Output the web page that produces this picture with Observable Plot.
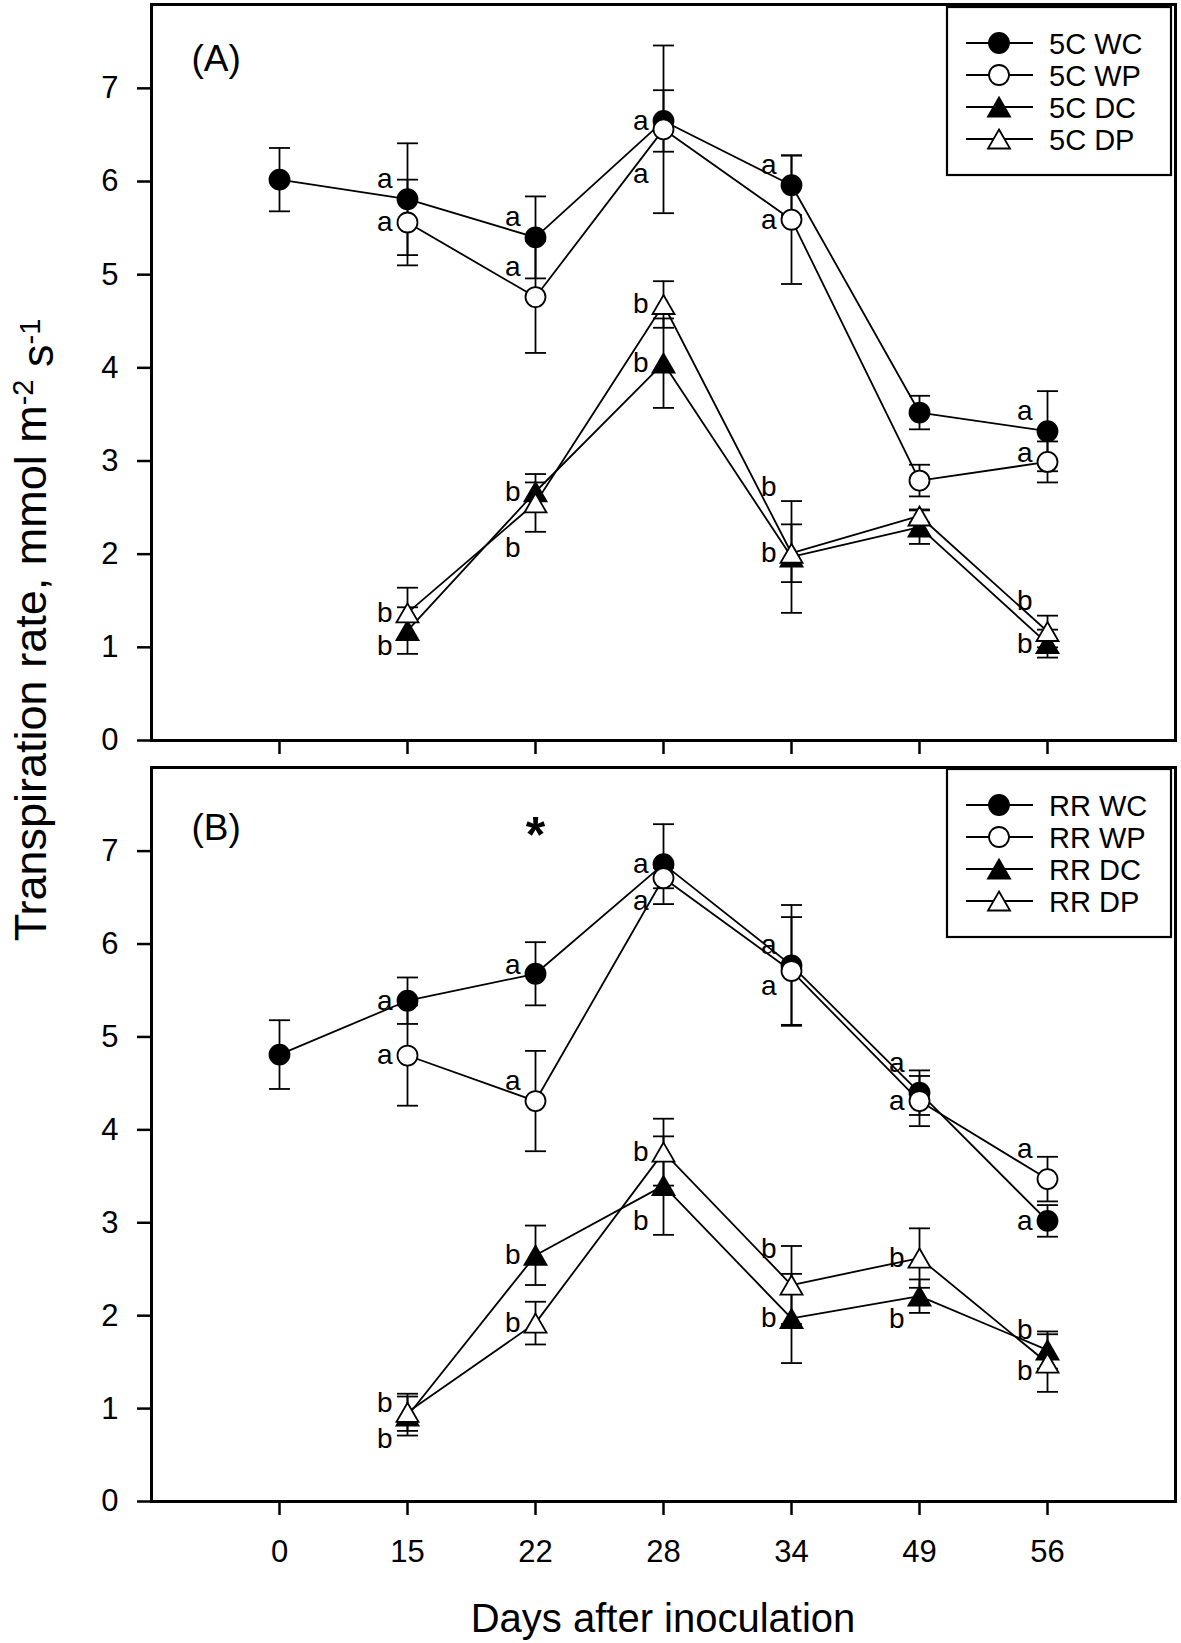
<!DOCTYPE html>
<html>
<head>
<meta charset="utf-8">
<script src="https://cdn.jsdelivr.net/npm/d3@7"></script>
<script src="https://cdn.jsdelivr.net/npm/@observablehq/plot@0.6"></script>
<style>
  body { margin: 0; background: #fff; }
  #fig { position: relative; width: 1181px; height: 1643px; background: #fff; }
  #fig svg { position: absolute; left: 0; overflow: visible; }
</style>
</head>
<body>
<div id="fig"></div>
<script>
// ---------------- DATA ----------------
const days = ["0", "15", "22", "28", "34", "49", "56"];
const yTicks = [0, 1, 2, 3, 4, 5, 6, 7];
const seriesNames = ["WC", "WP", "DC", "DP"];
const legendA = ["5C WC", "5C WP", "5C DC", "5C DP"];
const legendB = ["RR WC", "RR WP", "RR DC", "RR DP"];
const xTitle = "Days after inoculation";

// Panel A (5C): means and error (SE) per day
const meanA_WC = [6.02, 5.81, 5.40, 6.65, 5.96, 3.52, 3.32];
const seA_WC   = [0.34, 0.60, 0.44, 0.33, 0.32, 0.18, 0.43];
const meanA_WP = [null, 5.56, 4.76, 6.56, 5.59, 2.79, 2.99];
const seA_WP   = [null, 0.46, 0.60, 0.90, 0.69, 0.17, 0.22];
const meanA_DC = [null, 1.18, 2.67, 4.05, 1.97, 2.29, 1.04];
const seA_DC   = [null, 0.25, 0.10, 0.48, 0.60, 0.18, 0.15];
const meanA_DP = [null, 1.37, 2.55, 4.68, 2.01, 2.41, 1.17];
const seA_DP   = [null, 0.27, 0.31, 0.25, 0.31, 0.07, 0.17];

// Panel B (RR)
const meanB_WC = [4.81, 5.39, 5.68, 6.86, 5.77, 4.40, 3.02];
const seB_WC   = [0.37, 0.25, 0.34, 0.43, 0.65, 0.24, 0.17];
const meanB_WP = [null, 4.80, 4.31, 6.71, 5.71, 4.31, 3.47];
const seB_WP   = [null, 0.54, 0.54, 0.11, 0.58, 0.27, 0.24];
const meanB_DC = [null, 0.92, 2.65, 3.40, 1.97, 2.21, 1.63];
const seB_DC   = [null, 0.21, 0.32, 0.53, 0.48, 0.18, 0.20];
const meanB_DP = [null, 0.96, 1.92, 3.76, 2.33, 2.62, 1.49];
const seB_DP   = [null, 0.20, 0.23, 0.36, 0.42, 0.32, 0.31];

// Significance letters: [series, day, letter]
const lettersA = [
  ["WC","15","a"], ["WP","15","a"], ["WC","22","a"], ["WP","22","a"],
  ["WC","28","a"], ["WP","28","a"], ["WC","34","a"], ["WP","34","a"],
  ["WC","56","a"], ["WP","56","a"],
  ["DC","15","b"], ["DP","15","b"], ["DC","22","b"], ["DP","22","b"],
  ["DC","28","b"], ["DP","28","b"], ["DC","34","b"], ["DP","34","b"],
  ["DC","56","b"], ["DP","56","b"]
];
const lettersB = [
  ["WC","15","a"], ["WP","15","a"], ["WC","22","a"], ["WP","22","a"],
  ["WC","28","a"], ["WP","28","a"], ["WC","34","a"], ["WP","34","a"],
  ["WC","49","a"], ["WP","49","a"], ["WC","56","a"], ["WP","56","a"],
  ["DC","15","b"], ["DP","15","b"], ["DC","22","b"], ["DP","22","b"],
  ["DC","28","b"], ["DP","28","b"], ["DC","34","b"], ["DP","34","b"],
  ["DC","49","b"], ["DP","49","b"], ["DC","56","b"], ["DP","56","b"]
];
// placement code of each letter relative to its marker (same order)
const lettersAPlace = ["U","L","U","UU","L","D4","U","L","U","u",
                       "D","L","L","D4","L","L","U4","L","L","UU"];
const lettersBPlace = ["L","L","u","U","L","DD","U","D","UU","L","L","UU",
                       "DD","u","L","L","D3","L","L","U3","DD","L","U","d"];
const starsB = [{day: "22", y: 7.3, text: "*"}];

// ---------------- LAYOUT / STYLE ----------------
const FONT = '"Liberation Sans", Arial, Helvetica, sans-serif';
const W = 1181;
const placeDy = {L: 0, u: -9, U: -20, UU: -30, U3: -36, U4: -70, d: 8, D: 15, DD: 23, D3: 35, D4: 45};

const capSymbol = {
  draw(ctx, size) { const r = Math.sqrt(size / Math.PI); ctx.moveTo(-r, 0); ctx.lineTo(r, 0); }
};
const triSymbol = {
  draw(ctx, size) {
    const r = Math.sqrt(size / Math.PI), h = r * 1.73;
    ctx.moveTo(0, -h / 2); ctx.lineTo(r, h / 2); ctx.lineTo(-r, h / 2); ctx.closePath();
  }
};

function rowsOf(means, ses) {
  const rows = [];
  seriesNames.forEach(k => {
    means[k].forEach((m, i) => {
      if (m == null) return;
      const s = ses[k][i];
      rows.push({key: k, i, mean: m, lo: m - s, hi: m + s});
    });
  });
  return rows;
}

function makePanel(cfg) {
  const rows = rowsOf(cfg.means, cfg.ses);
  const lookup = new Map(rows.map(d => [d.key + "|" + d.i, d]));
  const lett = cfg.letters.map((l, j) => {
    const i = days.indexOf(l[1]);
    return {i, y: lookup.get(l[0] + "|" + i).mean, text: l[2], place: cfg.place[j]};
  });
  const marks = [
    Plot.frame({stroke: "black", strokeWidth: 3}),
    Plot.axisY({ticks: yTicks, tickSize: 14, tickPadding: 19, tickFormat: d => String(d), label: null, strokeWidth: 2.5}),
    Plot.axisX({ticks: d3.range(days.length), tickSize: 14, tickPadding: 24,
                tickFormat: cfg.showX ? (i => days[i]) : (() => ""), label: null, strokeWidth: 2.5}),
    Plot.line(rows, {x: "i", y: "mean", z: "key", stroke: "black", strokeWidth: 1.8}),
    Plot.ruleX(rows, {x: "i", y1: "lo", y2: "hi", stroke: "black", strokeWidth: 1.8}),
    Plot.dot(rows, {x: "i", y: "lo", symbol: capSymbol, r: 10.5, fill: "none", stroke: "black", strokeWidth: 1.8}),
    Plot.dot(rows, {x: "i", y: "hi", symbol: capSymbol, r: 10.5, fill: "none", stroke: "black", strokeWidth: 1.8}),
    ...seriesNames.map(k => Plot.dot(rows.filter(d => d.key === k), {
      x: "i", y: "mean",
      symbol: k[0] === "W" ? "circle" : triSymbol,
      r: k[0] === "W" ? 10 : 11,
      fill: k[1] === "C" ? "black" : "white",
      stroke: "black", strokeWidth: 1.8
    })),
    ...Object.entries(placeDy).map(([code, dy]) => Plot.text(lett.filter(d => d.place === code), {
      x: "i", y: "y", text: "text", dx: -15, dy, textAnchor: "end", lineAnchor: "middle",
      fontSize: 28, fill: "black"
    })),
    Plot.text([cfg.label], {frameAnchor: "top-left", text: d => d, dx: 40, dy: cfg.labelDy,
      textAnchor: "start", lineAnchor: "top", fontSize: 37, fill: "black"}),
    Plot.text(cfg.stars || [], {x: d => days.indexOf(d.day), y: "y", text: "text",
      fontSize: 50, fontWeight: "bold", dy: 13, fill: "black"})
  ];
  const svg = Plot.plot({
    width: W, height: cfg.height,
    marginLeft: 151, marginRight: 6, marginTop: cfg.marginTop, marginBottom: cfg.marginBottom,
    x: {domain: [-1, 7]},
    y: {domain: [0, 7.9]},
    style: {fontFamily: FONT, fontSize: "31px", color: "black", background: "transparent", overflow: "visible"},
    marks
  });
  svg.style.top = cfg.top + "px";
  return svg;
}

const fig = document.getElementById("fig");
fig.appendChild(makePanel({
  means: {WC: meanA_WC, WP: meanA_WP, DC: meanA_DC, DP: meanA_DP},
  ses: {WC: seA_WC, WP: seA_WP, DC: seA_DC, DP: seA_DP},
  letters: lettersA, place: lettersAPlace, label: "(A)", labelDy: 40,
  showX: false, top: 0, height: 760, marginTop: 4, marginBottom: 20
}));
fig.appendChild(makePanel({
  means: {WC: meanB_WC, WP: meanB_WP, DC: meanB_DC, DP: meanB_DP},
  ses: {WC: seB_WC, WP: seB_WP, DC: seB_DC, DP: seB_DP},
  letters: lettersB, place: lettersBPlace, label: "(B)", labelDy: 46, stars: starsB,
  showX: true, top: 740, height: 903, marginTop: 27, marginBottom: 142
}));

// ---------------- OVERLAY: legends and axis titles ----------------
const ov = d3.select(fig).append("svg")
  .attr("width", W).attr("height", 1643).style("top", "0px")
  .style("font-family", FONT);

function legend(names, top) {
  const g = ov.append("g").attr("transform", `translate(947,${top})`);
  g.append("rect").attr("width", 224).attr("height", 168)
    .attr("fill", "white").attr("stroke", "black").attr("stroke-width", 2.2);
  names.forEach((name, j) => {
    const k = seriesNames[j];
    const y = 36 + 32 * j;
    g.append("line").attr("x1", 19).attr("x2", 86).attr("y1", y).attr("y2", y)
      .attr("stroke", "black").attr("stroke-width", 1.8);
    const r = k[0] === "W" ? 10 : 11;
    g.append("path")
      .attr("d", d3.symbol(k[0] === "W" ? d3.symbolCircle : triSymbol, r * r * Math.PI)())
      .attr("transform", `translate(52,${y})`)
      .attr("fill", k[1] === "C" ? "black" : "white")
      .attr("stroke", "black").attr("stroke-width", 1.8);
    g.append("text").attr("x", 102).attr("y", y + 10.5)
      .attr("font-size", 29).text(name);
  });
}
legend(legendA, 7);
legend(legendB, 769);

const yt = ov.append("text")
  .attr("transform", "translate(46,630) rotate(-90)")
  .attr("text-anchor", "middle").attr("font-size", 45);
yt.append("tspan").text("Transpiration rate, mmol m");
yt.append("tspan").attr("dy", "-0.45em").attr("font-size", 29).text("-2");
yt.append("tspan").attr("dy", "0.45em").text(" s");
yt.append("tspan").attr("dy", "-0.45em").attr("font-size", 29).text("-1");

ov.append("text").attr("x", 663).attr("y", 1632)
  .attr("text-anchor", "middle").attr("font-size", 40).text(xTitle);
</script>
</body>
</html>
